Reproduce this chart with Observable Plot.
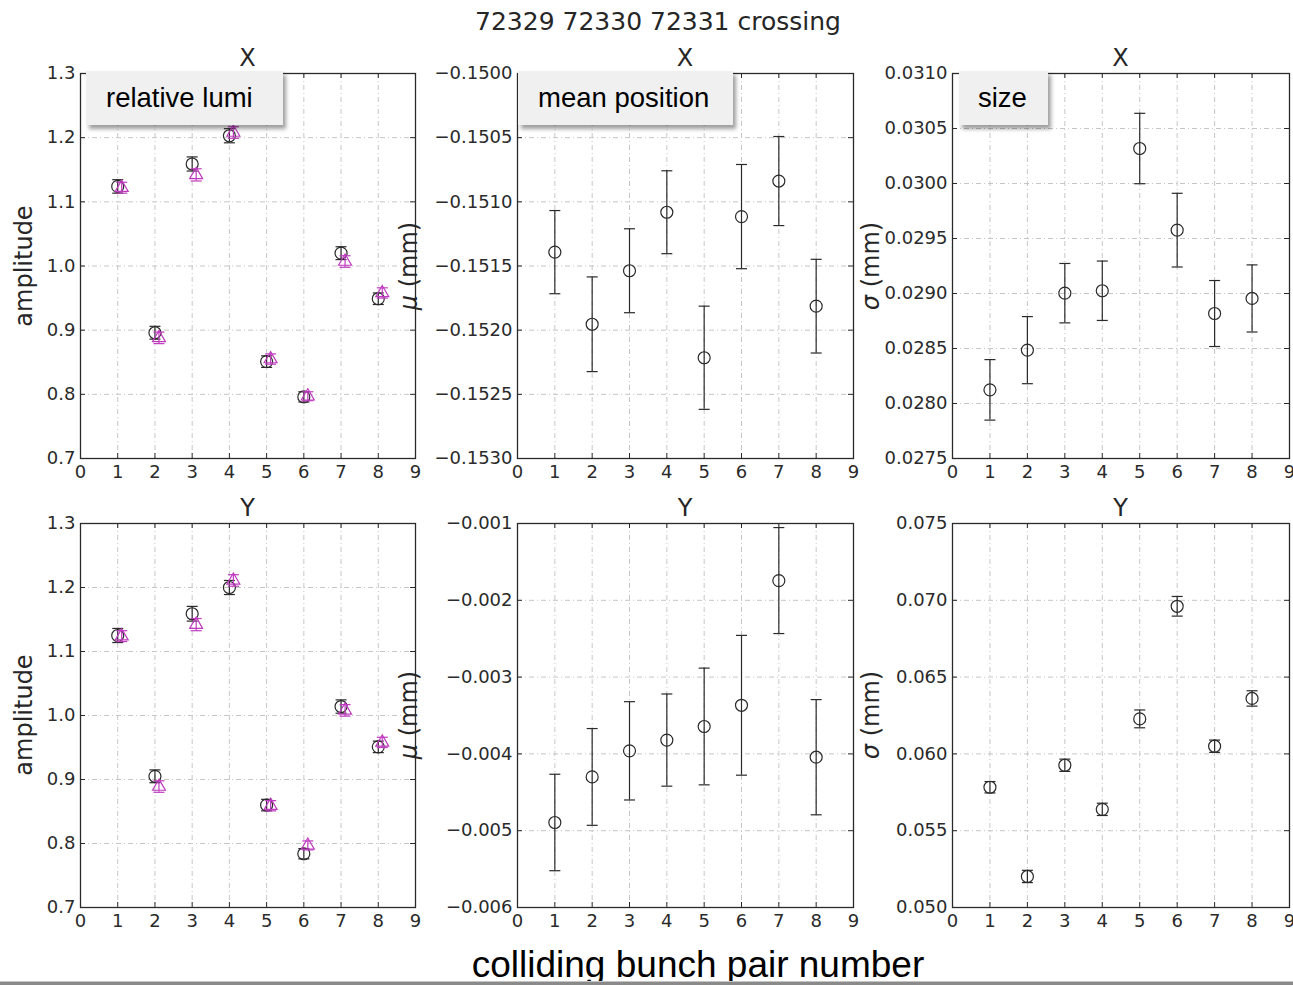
<!DOCTYPE html>
<html>
<head>
<meta charset="utf-8">
<script src="https://cdn.jsdelivr.net/npm/d3@7"></script>
<script src="https://cdn.jsdelivr.net/npm/@observablehq/plot@0.6"></script>
<style>
  body { margin: 0; background: #fff; }
  #page { position: relative; width: 1293px; height: 985px; overflow: hidden; background: #fff;
          font-family: "DejaVu Sans", sans-serif; color: #262626; }
  .abs { position: absolute; white-space: nowrap; }
  .panel { position: absolute; }
  .panel svg { overflow: visible; max-width: none !important; }
  .title { font-size: 25px; transform: translateX(-50%); line-height: 1; }
  .sub { font-size: 24px; transform: translateX(-50%); line-height: 1; }
  .ylab { font-size: 24px; transform: translate(-50%, -50%) rotate(-90deg); line-height: 1; }
  .ylab i { font-style: italic; }
  .legend { position: absolute; background: #f0f0f0; box-shadow: 3px 4px 4px rgba(0,0,0,0.38);
            font-family: "Liberation Sans", Arial, sans-serif; font-size: 27.5px; color: #000;
            height: 54px; line-height: 54px; z-index: 5; white-space: nowrap; }
  .xlab { font-family: "Liberation Sans", Arial, sans-serif; font-size: 37px; color: #000;
          transform: translateX(-50%); line-height: 1; }
  .bar { position: absolute; left: 0; width: 1293px; top: 981px; height: 4px; background: #8a8a8a;
         border-top: 1px solid #c4c4c4; box-sizing: border-box; z-index: 6; }
</style>
</head>
<body>
<div id="page"></div>
<script>
// Colliding bunch pair numbers
const bunches = [1, 2, 3, 4, 5, 6, 7, 8];

// Amplitude (X scan): fit amplitude and relative luminosity
const ampX = [1.124, 0.896, 1.159, 1.203, 0.851, 0.796, 1.020, 0.949];
const ampXErr = [0.0105, 0.010, 0.011, 0.011, 0.009, 0.008, 0.010, 0.009];
const lumiX = [1.122, 0.888, 1.142, 1.208, 0.855, 0.797, 1.007, 0.958];
const lumiXErr = [0.0085, 0.009, 0.0095, 0.009, 0.008, 0.007, 0.009, 0.008];

// Amplitude (Y scan)
const ampY = [1.125, 0.905, 1.159, 1.200, 0.860, 0.784, 1.014, 0.951];
const ampYErr = [0.011, 0.010, 0.0115, 0.011, 0.009, 0.008, 0.0104, 0.009];
const lumiY = [1.124, 0.889, 1.142, 1.211, 0.859, 0.797, 1.008, 0.958];
const lumiYErr = [0.0085, 0.009, 0.0095, 0.009, 0.008, 0.007, 0.009, 0.008];

// Mean position (mm)
const muX = [-0.151392, -0.151954, -0.151537, -0.151081, -0.152215, -0.151115, -0.150838, -0.151813];
const muXErr = [0.000324, 0.000369, 0.000327, 0.000323, 0.000402, 0.000406, 0.000347, 0.000365];
const muY = [-0.004893, -0.004300, -0.003960, -0.003820, -0.003643, -0.003367, -0.001743, -0.004043];
const muYErr = [0.000628, 0.000630, 0.000640, 0.000600, 0.000760, 0.000910, 0.000690, 0.000750];

// Beam size sigma (mm)
const sigX = [0.028124, 0.028485, 0.029003, 0.029025, 0.030318, 0.029576, 0.028818, 0.028955];
const sigXErr = [0.000275, 0.000305, 0.000270, 0.000270, 0.000320, 0.000335, 0.000300, 0.000305];
const sigY = [0.05783, 0.05202, 0.05926, 0.05639, 0.06228, 0.06961, 0.06050, 0.06361];
const sigYErr = [0.00037, 0.00040, 0.00040, 0.00040, 0.00058, 0.00064, 0.00040, 0.00050];

// Axis ticks
const xTicks = [0, 1, 2, 3, 4, 5, 6, 7, 8, 9];
const ampTicks = [0.7, 0.8, 0.9, 1.0, 1.1, 1.2, 1.3];
const muXTicks = [-0.1530, -0.1525, -0.1520, -0.1515, -0.1510, -0.1505, -0.1500];
const sigXTicks = [0.0275, 0.0280, 0.0285, 0.0290, 0.0295, 0.0300, 0.0305, 0.0310];
const muYTicks = [-0.006, -0.005, -0.004, -0.003, -0.002, -0.001];
const sigYTicks = [0.050, 0.055, 0.060, 0.065, 0.070, 0.075];

const page = document.getElementById("page");
const INK = "#2a2a2a";
const MAGENTA = "#c03ac0";

// Horizontal error bar cap drawn as a dot symbol
const capSymbol = {
  draw(context, size) {
    const w = Math.sqrt(size / Math.PI);
    context.moveTo(-w, 0);
    context.lineTo(w, 0);
  }
};

const rows = (xs, ys, es) => xs.map((x, i) => ({x, y: ys[i], lo: ys[i] - es[i], hi: ys[i] + es[i]}));

function errorMarks(data, {color, dx = 0}) {
  return [
    Plot.ruleX(data, {x: "x", y1: "lo", y2: "hi", stroke: color, strokeWidth: 1.2, dx}),
    Plot.dot(data, {x: "x", y: "lo", symbol: capSymbol, r: 5.5, stroke: color, strokeWidth: 1.2, dx}),
    Plot.dot(data, {x: "x", y: "hi", symbol: capSymbol, r: 5.5, stroke: color, strokeWidth: 1.2, dx})
  ];
}

function panel({left, top, w, h, domain, yTicks, fmt, series}) {
  const ML = 100, MR = 12, MT = 10, MB = 36;
  const inner = arr => arr.slice(1, -1);
  const gridStyle = {stroke: "#c6c6c6", strokeOpacity: 1, strokeWidth: 1, strokeDasharray: "5,3,1,3"};
  const tickStyle = {stroke: INK, strokeWidth: 1};
  const marks = [
    Plot.gridX(inner(xTicks), gridStyle),
    Plot.gridY(inner(yTicks), gridStyle),
    // inward ticks on all four sides
    Plot.tickX(inner(xTicks), {x: d => d, insetTop: h - 5, ...tickStyle}),
    Plot.tickX(inner(xTicks), {x: d => d, insetBottom: h - 5, ...tickStyle}),
    Plot.tickY(inner(yTicks), {y: d => d, insetRight: w - 5, ...tickStyle}),
    Plot.tickY(inner(yTicks), {y: d => d, insetLeft: w - 5, ...tickStyle}),
    Plot.axisX(xTicks, {tickSize: 0, tickPadding: 7, label: null, fontSize: 18, fill: INK}),
    Plot.axisY(yTicks, {tickSize: 0, tickPadding: 5, label: null, fontSize: 18, fill: INK, tickFormat: fmt})
  ];
  for (const s of series) {
    marks.push(...errorMarks(s.data, {color: s.color, dx: s.dx || 0}));
    marks.push(Plot.dot(s.data, {x: "x", y: "y", r: s.r, symbol: s.symbol, stroke: s.color,
                                 strokeWidth: 1.2, fill: "none", dx: s.dx || 0}));
  }
  marks.push(Plot.frame({stroke: INK, strokeWidth: 1.3}));
  const W = w + ML + MR, H = h + MT + MB;
  const svg = Plot.plot({
    width: W, height: H,
    marginLeft: ML, marginRight: MR, marginTop: MT, marginBottom: MB,
    style: {background: "transparent", overflow: "visible", fontFamily: "DejaVu Sans", color: INK, maxWidth: "none"},
    x: {domain: [0, 9]},
    y: {domain},
    marks
  });
  const div = document.createElement("div");
  div.className = "panel";
  div.style.left = (left - ML) + "px";
  div.style.top = (top - MT) + "px";
  div.style.width = W + "px";
  div.style.height = H + "px";
  div.appendChild(svg);
  page.appendChild(div);
}

const minus = s => s.replace("-", "\u2212");
const f1 = d => d.toFixed(1);
const f4 = d => minus(d.toFixed(4));
const f3 = d => minus(d.toFixed(3));

const cols = [{left: 80, w: 335}, {left: 517, w: 336}, {left: 952, w: 337}];
const rowsPos = [{top: 73, h: 385}, {top: 523, h: 384}];

const fitStyle = {color: INK, r: 6, symbol: "circle"};
const lumiStyle = {color: MAGENTA, r: 4.8, symbol: "triangle", dx: 4};

panel({...cols[0], ...rowsPos[0], domain: [0.7, 1.3], yTicks: ampTicks, fmt: f1, series: [
  {...fitStyle, data: rows(bunches, ampX, ampXErr)},
  {...lumiStyle, data: rows(bunches, lumiX, lumiXErr)}
]});
panel({...cols[1], ...rowsPos[0], domain: [-0.1530, -0.1500], yTicks: muXTicks, fmt: f4, series: [
  {...fitStyle, data: rows(bunches, muX, muXErr)}
]});
panel({...cols[2], ...rowsPos[0], domain: [0.0275, 0.0310], yTicks: sigXTicks, fmt: f4, series: [
  {...fitStyle, data: rows(bunches, sigX, sigXErr)}
]});
panel({...cols[0], ...rowsPos[1], domain: [0.7, 1.3], yTicks: ampTicks, fmt: f1, series: [
  {...fitStyle, data: rows(bunches, ampY, ampYErr)},
  {...lumiStyle, data: rows(bunches, lumiY, lumiYErr)}
]});
panel({...cols[1], ...rowsPos[1], domain: [-0.006, -0.001], yTicks: muYTicks, fmt: f3, series: [
  {...fitStyle, data: rows(bunches, muY, muYErr)}
]});
panel({...cols[2], ...rowsPos[1], domain: [0.050, 0.075], yTicks: sigYTicks, fmt: f3, series: [
  {...fitStyle, data: rows(bunches, sigY, sigYErr)}
]});

// Text: titles, panel headings, axis labels, legend boxes
function addText(cls, html, x, y) {
  const el = document.createElement("div");
  el.className = "abs " + cls;
  el.innerHTML = html;
  el.style.left = x + "px";
  el.style.top = y + "px";
  page.appendChild(el);
  return el;
}

addText("title", "72329 72330 72331 crossing", 658, 9);
const yLabels = ["amplitude", "<i>\u03bc</i> (mm)", "<i>\u03c3</i> (mm)"];
const yLabelX = [24, 409, 871];
cols.forEach((c, i) => {
  rowsPos.forEach((r, j) => {
    addText("sub", j === 0 ? "X" : "Y", c.left + c.w / 2, r.top - 27);
    addText("ylab", yLabels[i], yLabelX[i], r.top + r.h / 2);
  });
});

const legends = [
  {text: "relative lumi", left: 86, width: 197, pad: 20},
  {text: "mean position", left: 518, width: 215, pad: 20},
  {text: "size", left: 959, width: 89, pad: 19}
];
for (const lg of legends) {
  const el = document.createElement("div");
  el.className = "legend";
  el.textContent = lg.text;
  el.style.left = lg.left + "px";
  el.style.top = "71px";
  el.style.width = (lg.width - lg.pad) + "px";
  el.style.paddingLeft = lg.pad + "px";
  page.appendChild(el);
}

addText("xlab", "colliding bunch pair number", 698, 946);
const bar = document.createElement("div");
bar.className = "bar";
page.appendChild(bar);
</script>
</body>
</html>
